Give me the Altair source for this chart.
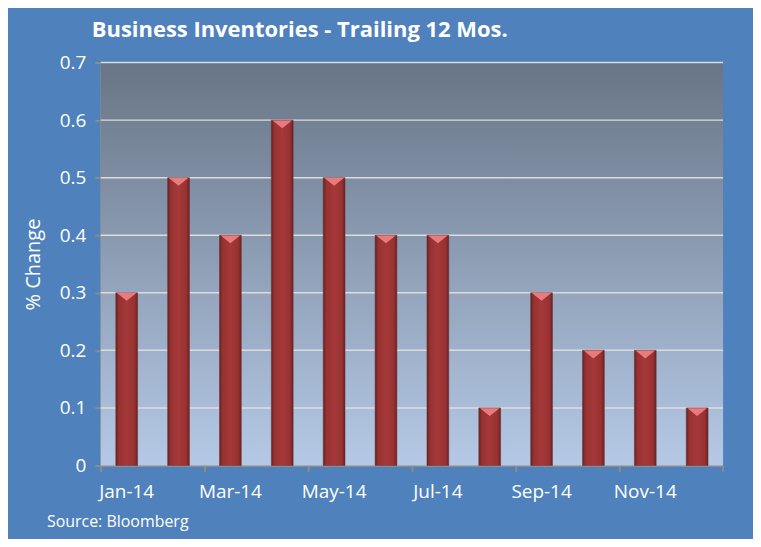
import altair as alt
import pandas as pd

months = ["Jan-14", "Feb-14", "Mar-14", "Apr-14", "May-14", "Jun-14",
          "Jul-14", "Aug-14", "Sep-14", "Oct-14", "Nov-14", "Dec-14"]
values = [0.3, 0.5, 0.4, 0.6, 0.5, 0.4, 0.4, 0.1, 0.3, 0.2, 0.2, 0.1]
label_months = ["Jan-14", "Mar-14", "May-14", "Jul-14", "Sep-14", "Nov-14"]
y_ticks = [0, 0.1, 0.2, 0.3, 0.4, 0.5, 0.6, 0.7]
title_text = "Business Inventories - Trailing 12 Mos."
source_text = "Source: Bloomberg"

W, H = 624, 404
FONT = "Open Sans"

df = pd.DataFrame({"month": months, "value": values})
grid_df = pd.DataFrame({"v": y_ticks[1:]})

x_enc = alt.X("month:N", sort=months, title=None,
              scale=alt.Scale(paddingInner=0, paddingOuter=0),
              axis=alt.Axis(values=label_months, bandPosition=0,
                            labelAngle=0, labelFontSize=19, labelFont=FONT,
                            labelColor="white", labelPadding=11, tickSize=6,
                            tickColor="#8C8C8C", domainColor="#8C8C8C",
                            domainWidth=2, tickWidth=2, grid=False))
y_enc = alt.Y("value:Q", title="% Change",
              scale=alt.Scale(domain=[0, 0.7], nice=False),
              axis=alt.Axis(values=y_ticks, format=".1~f", labelFontSize=19,
                            labelFont=FONT, labelColor="white", labelPadding=9,
                            tickSize=6, tickColor="#8C8C8C", tickWidth=2,
                            domainColor="#8C8C8C", domainWidth=2, grid=False,
                            titleFont=FONT, titleFontSize=20,
                            titleFontWeight="normal", titleColor="white",
                            titlePadding=16))

plot_fill = {"gradient": "linear", "x1": 0, "y1": 0, "x2": 0, "y2": 1,
             "stops": [{"offset": 0, "color": "#687586"},
                       {"offset": 1, "color": "#B5C9E6"}]}

bar_fill = {
    "gradient": "linear", "x1": 0, "y1": 0, "x2": 1, "y2": 0,
    "stops": [
        {"offset": 0, "color": "#6A2222"},
        {"offset": 0.15, "color": "#983232"},
        {"offset": 0.5, "color": "#A53838"},
        {"offset": 0.85, "color": "#983232"},
        {"offset": 1, "color": "#6A2222"},
    ],
}

bg = alt.Chart(pd.DataFrame({"k": [0]})).mark_rect(fill=plot_fill).encode(
    x=alt.value(0), x2=alt.value(W), y=alt.value(0), y2=alt.value(H))

grid = alt.Chart(grid_df).mark_rule(color="#DCDCDC", strokeWidth=1.5).encode(
    y=alt.Y("v:Q", scale=alt.Scale(domain=[0, 0.7], nice=False)),
    x=alt.value(0), x2=alt.value(W))

bars = alt.Chart(df).mark_bar(
    fill=bar_fill, width=alt.RelativeBandSize(0.42), stroke="#6A2A2A",
    strokeWidth=0.5
).encode(x=x_enc, y=y_enc)

caps = alt.Chart(df).mark_point(
    shape="M-1,-1L1,-1L0,-0.2Z", filled=True, fill="#EC8080", opacity=0.95,
    size=380, yOffset=10, strokeWidth=0
).encode(x=alt.X("month:N", sort=months), y="value:Q")

end_tick = alt.Chart(pd.DataFrame({"k": [0]})).mark_rule(
    color="#8C8C8C", strokeWidth=2
).encode(x=alt.value(W), y=alt.value(H), y2=alt.value(H + 6))

source = alt.Chart(pd.DataFrame({"t": [source_text]})).mark_text(
    align="left", baseline="middle", font=FONT, fontSize=16, color="white"
).encode(x=alt.value(-54), y=alt.value(H + 57), text="t:N")

chart = alt.layer(bg, grid, bars, caps, end_tick, source).properties(
    width=W, height=H,
    title=alt.TitleParams(title_text, anchor="start", frame="group", dx=-9,
                          offset=12, fontSize=22, font=FONT, fontWeight="bold",
                          color="white"),
    background="#4F81BD",
    padding={"left": 93, "top": 54, "right": 30, "bottom": 73},
    autosize=alt.AutoSizeParams(type="none"),
).configure_view(stroke=None)

chart.save("out.html", embed_options={"renderer": "svg", "actions": False})
